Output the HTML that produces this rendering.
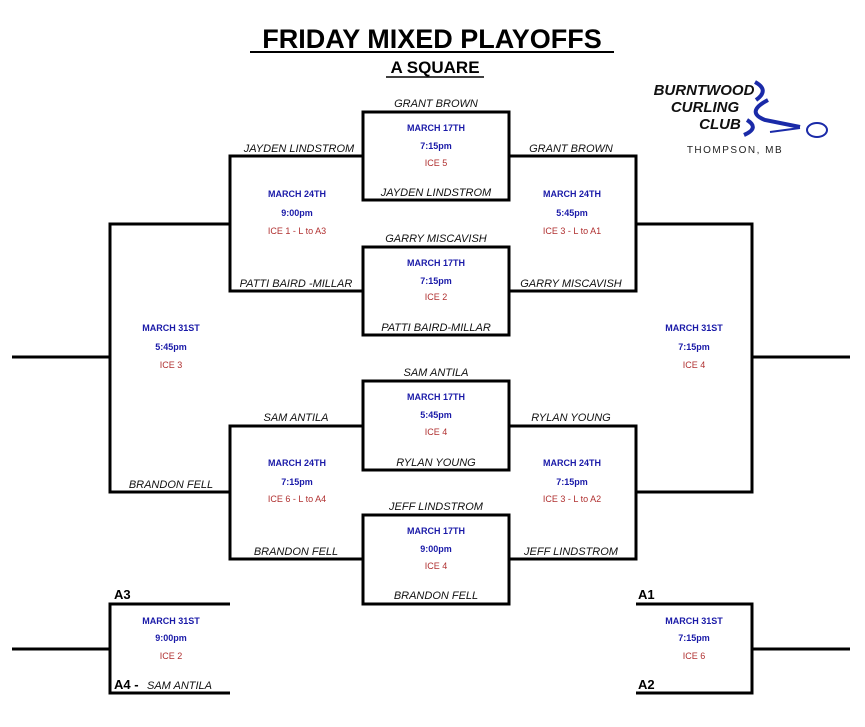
<!DOCTYPE html>
<html><head><style>
html,body{margin:0;padding:0;background:#fff;}
svg{display:block;font-family:"Liberation Sans",Arial,sans-serif;}
.n{font-size:11px;font-style:italic;fill:#111;}
.b{font-size:9px;font-weight:bold;fill:#1a1aa8;}
.r{font-size:9px;fill:#b03030;}
</style></head><body>
<svg width="865" height="727" viewBox="0 0 865 727">
<g text-anchor="middle">
<text x="432" y="48" font-size="27" font-weight="bold">FRIDAY MIXED PLAYOFFS</text>
<line x1="250" y1="52" x2="614" y2="52" stroke="#000" stroke-width="2"/>
<text x="435" y="73" font-size="17" font-weight="bold">A SQUARE</text>
<line x1="386" y1="77" x2="484" y2="77" stroke="#000" stroke-width="1.5"/>
</g>
<!-- logo -->
<g font-weight="bold" font-style="italic" fill="#111" font-size="15" text-anchor="middle">
<text x="704" y="95">BURNTWOOD</text>
<text x="705" y="112">CURLING</text>
<text x="720" y="129">CLUB</text>
</g>
<path d="M755 82 Q770 90 756 100" stroke="#1a2aa8" stroke-width="4" fill="none"/>
<path d="M768 100 Q745 112 765 120 L800 127" stroke="#1a2aa8" stroke-width="4" fill="none"/>
<path d="M747 120 Q760 128 744 135" stroke="#1a2aa8" stroke-width="4" fill="none"/>
<path d="M770 132 L800 128" stroke="#1a2aa8" stroke-width="2"/>
<ellipse cx="817" cy="130" rx="10" ry="7" stroke="#1a2aa8" stroke-width="2" fill="none"/>
<text x="735" y="153" font-size="10" letter-spacing="1.5" text-anchor="middle" fill="#222">THOMPSON, MB</text>

<g stroke="#000" stroke-width="3" fill="none">
<rect x="363" y="112" width="146" height="88"/>
<rect x="363" y="247" width="146" height="88"/>
<rect x="363" y="381" width="146" height="89"/>
<rect x="363" y="515" width="146" height="89"/>
<path d="M363 156 H230 V291 H363"/>
<path d="M363 426 H230 V559 H363"/>
<path d="M509 156 H636 V291 H509"/>
<path d="M509 426 H636 V559 H509"/>
<path d="M230 224 H110 V492 H230"/>
<path d="M636 224 H752 V492 H636"/>
<path d="M12 357 H110"/>
<path d="M752 357 H850"/>
<path d="M230 604 H110 V693 H230"/>
<path d="M12 649 H110"/>
<path d="M636 604 H752 V693 H636"/>
<path d="M752 649 H850"/>
</g>

<g text-anchor="middle">
<text class="n" x="436" y="107">GRANT BROWN</text>
<text class="b" x="436" y="131">MARCH 17TH</text>
<text class="b" x="436" y="149">7:15pm</text>
<text class="r" x="436" y="166">ICE 5</text>
<text class="n" x="436" y="196">JAYDEN LINDSTROM</text>

<text class="n" x="436" y="242">GARRY MISCAVISH</text>
<text class="b" x="436" y="266">MARCH 17TH</text>
<text class="b" x="436" y="284">7:15pm</text>
<text class="r" x="436" y="300">ICE 2</text>
<text class="n" x="436" y="331">PATTI BAIRD-MILLAR</text>

<text class="n" x="436" y="376">SAM ANTILA</text>
<text class="b" x="436" y="400">MARCH 17TH</text>
<text class="b" x="436" y="418">5:45pm</text>
<text class="r" x="436" y="435">ICE 4</text>
<text class="n" x="436" y="466">RYLAN YOUNG</text>

<text class="n" x="436" y="510">JEFF LINDSTROM</text>
<text class="b" x="436" y="534">MARCH 17TH</text>
<text class="b" x="436" y="552">9:00pm</text>
<text class="r" x="436" y="569">ICE 4</text>
<text class="n" x="436" y="599">BRANDON FELL</text>

<text class="n" x="299" y="152">JAYDEN LINDSTROM</text>
<text class="n" x="296" y="287">PATTI BAIRD -MILLAR</text>
<text class="b" x="297" y="197">MARCH 24TH</text>
<text class="b" x="297" y="216">9:00pm</text>
<text class="r" x="297" y="234">ICE 1 - L to A3</text>

<text class="n" x="571" y="152">GRANT BROWN</text>
<text class="n" x="571" y="287">GARRY MISCAVISH</text>
<text class="b" x="572" y="197">MARCH 24TH</text>
<text class="b" x="572" y="216">5:45pm</text>
<text class="r" x="572" y="234">ICE 3 - L to A1</text>

<text class="n" x="296" y="421">SAM ANTILA</text>
<text class="n" x="296" y="555">BRANDON FELL</text>
<text class="b" x="297" y="466">MARCH 24TH</text>
<text class="b" x="297" y="485">7:15pm</text>
<text class="r" x="297" y="502">ICE 6 - L to A4</text>

<text class="n" x="571" y="421">RYLAN YOUNG</text>
<text class="n" x="571" y="555">JEFF LINDSTROM</text>
<text class="b" x="572" y="466">MARCH 24TH</text>
<text class="b" x="572" y="485">7:15pm</text>
<text class="r" x="572" y="502">ICE 3 - L to A2</text>

<text class="b" x="171" y="331">MARCH 31ST</text>
<text class="b" x="171" y="350">5:45pm</text>
<text class="r" x="171" y="368">ICE 3</text>
<text class="n" x="171" y="488">BRANDON FELL</text>

<text class="b" x="694" y="331">MARCH 31ST</text>
<text class="b" x="694" y="350">7:15pm</text>
<text class="r" x="694" y="368">ICE 4</text>

<text class="b" x="171" y="624">MARCH 31ST</text>
<text class="b" x="171" y="641">9:00pm</text>
<text class="r" x="171" y="659">ICE 2</text>

<text class="b" x="694" y="624">MARCH 31ST</text>
<text class="b" x="694" y="641">7:15pm</text>
<text class="r" x="694" y="659">ICE 6</text>
</g>
<text x="114" y="599" font-size="13" font-weight="bold">A3</text>
<text x="114" y="689" font-size="13" font-weight="bold">A4 -</text>
<text class="n" x="147" y="689">SAM ANTILA</text>
<text x="638" y="599" font-size="13" font-weight="bold">A1</text>
<text x="638" y="689" font-size="13" font-weight="bold">A2</text>
</svg>
</body></html>
